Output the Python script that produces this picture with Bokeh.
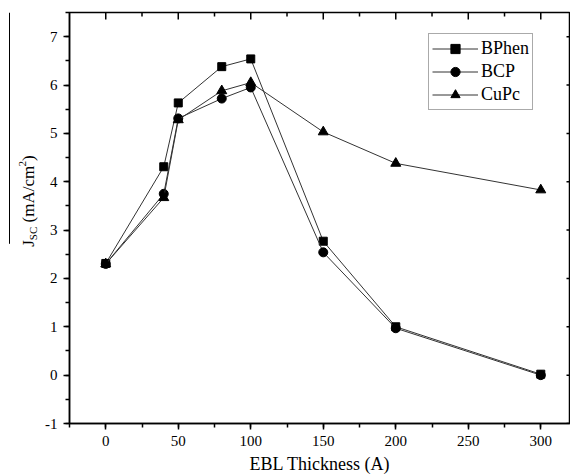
import math
from bokeh.plotting import figure
from bokeh.layouts import row
from bokeh.models import Range1d, SingleIntervalTicker, Legend, LegendItem
from bokeh.core.properties import value
from bokeh.embed import file_html
from bokeh.resources import INLINE

# ---- data ----
thickness = [0, 40, 50, 80, 100, 150, 200, 300]
bphen = [2.31, 4.31, 5.63, 6.38, 6.54, 2.77, 1.00, 0.02]
bcp = [2.30, 3.75, 5.31, 5.72, 5.95, 2.54, 0.97, 0.00]
cupc = [2.30, 3.67, 5.28, 5.88, 6.05, 5.03, 4.38, 3.83]
series_names = ["BPhen", "BCP", "CuPc"]
x_label = "EBL Thickness (A)"
x_major_ticks = [0, 50, 100, 150, 200, 250, 300]
x_minor_ticks = [25, 75, 125, 175, 225, 275]
y_major_ticks = [-1, 0, 1, 2, 3, 4, 5, 6, 7]

FONT = "Liberation Serif"
X0, X1, Y0, Y1 = -25, 320.5, -1, 7.5
LEFT_W = 40
H = 476
FR_TOP, FR_BOT = 12, 426   # frame rows (pixels from top)

# ---------------- main plot ----------------
p = figure(width=570 - LEFT_W, height=H, output_backend="svg",
           toolbar_location=None,
           x_range=Range1d(X0, X1), y_range=Range1d(Y0, Y1),
           min_border_left=69 - LEFT_W, min_border_right=0,
           min_border_top=FR_TOP, min_border_bottom=H - FR_BOT)
p.grid.visible = False
p.outline_line_color = "black"
p.outline_line_width = 1.5
p.background_fill_color = "white"
p.border_fill_color = "white"

p.xaxis.ticker = SingleIntervalTicker(interval=50, num_minor_ticks=2)
p.yaxis.ticker = SingleIntervalTicker(interval=1, num_minor_ticks=2)

for ax in (p.xaxis[0], p.yaxis[0]):
    ax.axis_line_width = 1.5
    ax.major_tick_line_width = 1.5
    ax.minor_tick_line_width = 1.5
    ax.major_tick_out = 6
    ax.major_tick_in = 0
    ax.minor_tick_out = 4
    ax.minor_tick_in = 0
    ax.major_label_text_font = FONT
    ax.major_label_text_font_size = "15px"
    ax.major_label_text_color = "black"
    ax.axis_label_text_font = FONT
    ax.axis_label_text_font_style = "normal"
    ax.axis_label_text_color = "black"

p.xaxis.axis_label = x_label
p.xaxis.axis_label_text_font_size = "18px"
p.xaxis.axis_label_standoff = 5
p.xaxis.major_label_standoff = 6
p.yaxis.major_label_standoff = 6
p.yaxis.major_label_overrides = {-1: "-1"}

# pixel -> data helpers for the frame (501 x 414 px)
PXX = (X1 - X0) / 501.0
PXY = (Y1 - Y0) / (FR_BOT - FR_TOP)

# mirrored inward ticks on top and right
nM, nm, ny = len(x_major_ticks), len(x_minor_ticks), len(y_major_ticks)
p.segment(x0=x_major_ticks, y0=[Y1] * nM, x1=x_major_ticks,
          y1=[Y1 - 7 * PXY] * nM, line_color="black", line_width=1.5)
p.segment(x0=x_minor_ticks, y0=[Y1] * nm, x1=x_minor_ticks,
          y1=[Y1 - 4 * PXY] * nm, line_color="black", line_width=1.5)
p.segment(x0=[X1] * ny, y0=y_major_ticks, x1=[X1 - 4 * PXX] * ny,
          y1=y_major_ticks, line_color="black", line_width=1.5)

LINE = "#333333"
items = []
marks = [("square", bphen, 8), ("circle", bcp, 9), ("triangle", cupc, 10)]
for name, (marker, vals, sz) in zip(series_names, marks):
    l = p.line(thickness, vals, line_color=LINE, line_width=1)
    m = p.scatter(thickness, vals, marker=marker, size=sz,
                  fill_color="black", line_color="black")
    items.append(LegendItem(label=name, renderers=[l, m]))

legend = Legend(items=items, location=(359, 313), glyph_width=46,
                glyph_height=23, label_height=23, label_standoff=3,
                padding=3, spacing=0, margin=0,
                label_text_font=FONT, label_text_font_size="18px",
                label_text_color="black",
                border_line_color="#555555", border_line_width=1,
                background_fill_alpha=1)
p.add_layout(legend, "center")

# ---------------- y-axis title strip ----------------
# The row aligns this strip's frame with the main frame (rows 12..426),
# so its y range is expressed as "pixels from the bottom of the page".
t = figure(width=LEFT_W, height=H, output_backend="svg",
           toolbar_location=None, x_axis_type=None, y_axis_type=None,
           x_range=Range1d(0, LEFT_W), y_range=Range1d(H - FR_BOT, H - FR_TOP),
           min_border=0, min_border_left=0, min_border_right=0,
           min_border_top=FR_TOP, min_border_bottom=H - FR_BOT)
t.grid.visible = False
t.outline_line_color = None
t.background_fill_color = "white"
t.border_fill_color = "white"

def up(py):  # row measured from the top of the page -> y from the bottom
    return H - py

ang = math.pi / 2
big = dict(angle=ang, text_font=value(FONT), text_font_size="17px",
           text_color="black", text_align="left", text_baseline="alphabetic")
small = dict(big, text_font_size="11px")
t.text(x=[28, 28, 28], y=[up(248), up(223.5), up(161.5)],
       text=["J", "(mA/cm", ")"], **big)
t.text(x=[32, 22], y=[up(241.4), up(167.0)], text=["SC", "2"], **small)
# overline over the title
t.segment(x0=[9], y0=[up(FR_TOP)], x1=[9], y1=[up(245)],
          line_color="black", line_width=1)

layout = row(t, p)
open("out.html", "w").write(file_html(layout, INLINE))
